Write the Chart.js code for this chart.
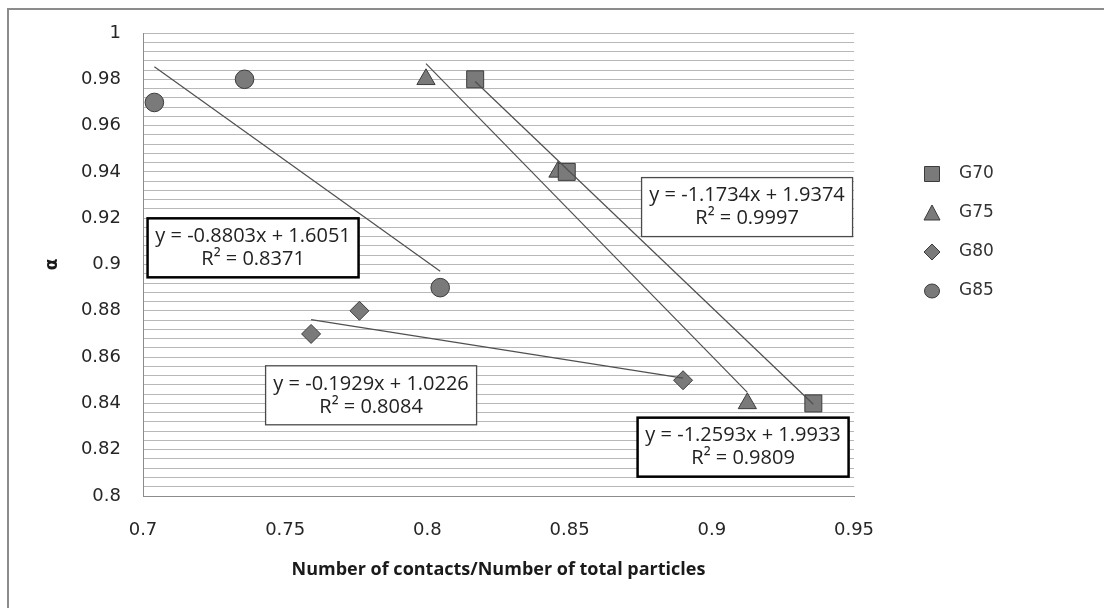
<!DOCTYPE html>
<html>
<head>
<meta charset="utf-8">
<title>alpha vs contacts</title>
<script src="https://cdn.jsdelivr.net/npm/chart.js@4.4.0/dist/chart.umd.min.js"></script>
<style>
  html, body { margin: 0; padding: 0; background: #fff; }
</style>
</head>
<body>
<canvas id="mychart" width="1104" height="608"></canvas>
<script>
'use strict'

// 系列名
const seriesNames = ['G70', 'G75', 'G80', 'G85'];

// 各系列の値 (x: 接触数/全粒子数, y: α)
const g70X = [0.8168, 0.8490, 0.9357];
const g70Y = [0.98, 0.94, 0.84];
const g75X = [0.7995, 0.8459, 0.9125];
const g75Y = [0.98, 0.94, 0.84];
const g80X = [0.7591, 0.7761, 0.8899];
const g80Y = [0.87, 0.88, 0.85];
const g85X = [0.7040, 0.7357, 0.8045];
const g85Y = [0.97, 0.98, 0.89];

// 近似式のラベル (系列順)
const eqTexts = ['y = -1.1734x + 1.9374', 'y = -1.2593x + 1.9933', 'y = -0.1929x + 1.0226', 'y = -0.8803x + 1.6051'];
const r2Texts = ['R² = 0.9997', 'R² = 0.9809', 'R² = 0.8084', 'R² = 0.8371'];

// 軸の目盛り
const xTicks = [0.7, 0.75, 0.8, 0.85, 0.9, 0.95];
const yTicks = [0.8, 0.82, 0.84, 0.86, 0.88, 0.9, 0.92, 0.94, 0.96, 0.98, 1];

// ラベル枠の中心 (データ座標) と枠線
const boxAnchors = [
  { x: 0.9124, y: 0.9248, bold: false },
  { x: 0.9110, y: 0.8211, bold: true },
  { x: 0.7802, y: 0.8435, bold: false },
  { x: 0.7387, y: 0.9072, bold: true },
];

const pointStyles = ['rect', 'triangle', 'rectRot', 'circle'];
const pointSizes = [12, 10.5, 9.5, 9.3];
const markerFill = '#7a7a7a';
const markerEdge = '#3c3c3c';

// 最小二乗で近似直線 (xの最小〜最大)
function trend(xs, ys) {
  const n = xs.length;
  const mx = xs.reduce((a, b) => a + b, 0) / n;
  const my = ys.reduce((a, b) => a + b, 0) / n;
  let sxy = 0, sxx = 0;
  for (let i = 0; i < n; i++) {
    sxy += (xs[i] - mx) * (ys[i] - my);
    sxx += (xs[i] - mx) * (xs[i] - mx);
  }
  const m = sxy / sxx;
  const b = my - m * mx;
  const x0 = Math.min(...xs), x1 = Math.max(...xs);
  return [{ x: x0, y: m * x0 + b }, { x: x1, y: m * x1 + b }];
}

const allX = [g70X, g75X, g80X, g85X];
const allY = [g70Y, g75Y, g80Y, g85Y];

const datasets = [];
allX.forEach((xs, i) => {
  datasets.push({
    label: seriesNames[i],
    data: xs.map((x, j) => ({ x: x, y: allY[i][j] })),
    pointStyle: pointStyles[i],
    pointRadius: pointSizes[i],
    pointHoverRadius: pointSizes[i],
    backgroundColor: markerFill,
    borderColor: markerEdge,
    borderWidth: 1,
    order: 1,
  });
});
allX.forEach((xs, i) => {
  datasets.push({
    type: 'line',
    label: 'trend ' + seriesNames[i],
    data: trend(xs, allY[i]),
    borderColor: '#505050',
    borderWidth: 1.2,
    pointRadius: 0,
    fill: false,
    order: 0,
  });
});

// 背景と外枠
const framePlugin = {
  id: 'frame',
  beforeDraw(chart) {
    const c = chart.ctx;
    c.save();
    c.fillStyle = '#fff';
    c.fillRect(0, 0, chart.width, chart.height);
    c.strokeStyle = '#8c8c8c';
    c.lineWidth = 2;
    c.beginPath();
    c.moveTo(8, chart.height + 5);
    c.lineTo(8, 9);
    c.lineTo(chart.width + 5, 9);
    c.stroke();
    c.restore();
  }
};

// 近似式の枠
const boxPlugin = {
  id: 'eqboxes',
  afterDatasetsDraw(chart) {
    const c = chart.ctx;
    const sx = chart.scales.x, sy = chart.scales.y;
    c.save();
    boxAnchors.forEach((a, i) => {
      const px = sx.getPixelForValue(a.x);
      const py = sy.getPixelForValue(a.y);
      const w = 211, h = 59;
      c.fillStyle = '#fff';
      c.fillRect(px - w / 2, py - h / 2, w, h);
      c.strokeStyle = a.bold ? '#000' : '#4a4a4a';
      c.lineWidth = a.bold ? 2.5 : 1.3;
      c.strokeRect(px - w / 2, py - h / 2, w, h);
      c.fillStyle = '#222';
      c.font = '20px "Open Sans"';
      c.textAlign = 'center';
      c.textBaseline = 'middle';
      c.fillText(eqTexts[i], px, py - 11.5);
      c.fillText(r2Texts[i], px, py + 11.5);
    });
    c.restore();
  }
};

function drawMarker(c, style, x, y) {
  c.beginPath();
  if (style === 'rect') {
    c.rect(x - 7.5, y - 7.5, 15, 15);
  } else if (style === 'triangle') {
    c.moveTo(x, y - 8);
    c.lineTo(x + 8, y + 7);
    c.lineTo(x - 8, y + 7);
    c.closePath();
  } else if (style === 'rectRot') {
    c.moveTo(x, y - 8);
    c.lineTo(x + 8, y);
    c.lineTo(x, y + 8);
    c.lineTo(x - 8, y);
    c.closePath();
  } else {
    c.ellipse(x, y, 7.5, 7, 0, 0, Math.PI * 2);
  }
  c.fill();
  c.stroke();
}

// 凡例
const legendPlugin = {
  id: 'sideLegend',
  afterDraw(chart) {
    const c = chart.ctx;
    const lx = 932, tx = 959, ly0 = 174, dy = 39;
    c.save();
    c.strokeStyle = markerEdge;
    c.lineWidth = 1;
    seriesNames.forEach((name, i) => {
      const y = ly0 + i * dy;
      c.fillStyle = markerFill;
      drawMarker(c, pointStyles[i], lx, y);
      c.fillStyle = '#333';
      c.font = '17px "DejaVu Sans"';
      c.textAlign = 'left';
      c.textBaseline = 'middle';
      c.fillText(name, tx, y);
    });
    c.restore();
  }
};

const ctx = document.getElementById('mychart');

const myChart = new Chart(ctx, {
  type: 'scatter',
  data: { datasets: datasets },
  options: {
    responsive: false,
    animation: false,
    devicePixelRatio: 1,
    layout: { padding: { top: 33, right: 250, left: 0, bottom: 0 } },
    plugins: {
      legend: { display: false },
      tooltip: { enabled: false },
    },
    scales: {
      x: {
        type: 'linear',
        min: xTicks[0],
        max: xTicks[xTicks.length - 1],
        afterFit: (s) => { s.height = 112; },
        afterBuildTicks: (s) => { s.ticks = xTicks.map(v => ({ value: v })); },
        grid: { display: false, drawTicks: false },
        border: { display: true, color: '#8c8c8c', width: 1 },
        ticks: {
          padding: 24,
          color: '#262626',
          font: { family: 'DejaVu Sans', size: 18 },
          callback: (v) => String(Math.round(v * 100) / 100),
        },
        title: {
          display: true,
          text: 'Number of contacts/Number of total particles',
          color: '#1a1a1a',
          font: { family: 'Open Sans', size: 18, weight: 'bold' },
          padding: { top: 0, bottom: 27 },
        },
      },
      y: {
        type: 'linear',
        min: yTicks[0],
        max: yTicks[yTicks.length - 1],
        afterFit: (s) => { s.width = 143; },
        grid: { color: '#b8b8b8', lineWidth: 1, drawTicks: false },
        border: { display: true, color: '#8c8c8c', width: 1 },
        ticks: {
          stepSize: 0.004,
          autoSkip: false,
          padding: 22,
          color: '#262626',
          font: { family: 'DejaVu Sans', size: 18 },
          callback: (v) => {
            const hit = yTicks.find(t => Math.abs(t - v) < 1e-6);
            return hit === undefined ? '' : String(hit);
          },
        },
        title: {
          display: true,
          text: 'α',
          color: '#1a1a1a',
          font: { family: 'DejaVu Sans', size: 17, weight: 'bold' },
          padding: { top: 42, bottom: 0 },
        },
      },
    },
  },
  plugins: [framePlugin, boxPlugin, legendPlugin],
});
</script>
</body>
</html>
